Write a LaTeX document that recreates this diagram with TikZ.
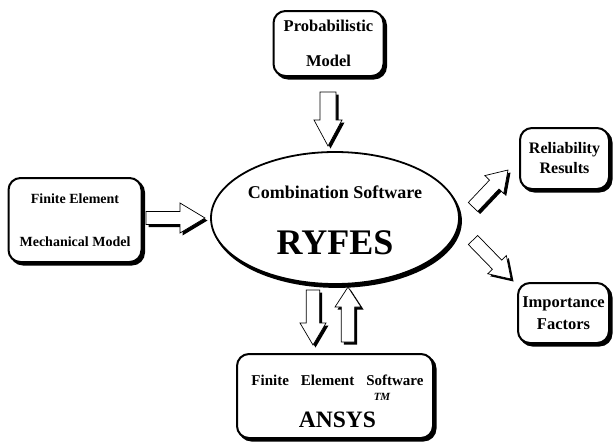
\documentclass[tikz,border=0pt]{standalone}
\usepackage{fontspec}
\setmainfont{Liberation Serif}
\usetikzlibrary{calc,shadows,shapes.geometric}
\newcommand\barrowpath[5]{($(#1)!#3!90:(#2)$) -- ($(#2)!#5!(#1)!#3!-90:(#1)$) -- ($(#2)!#5!(#1)!#4!-90:(#1)$) -- (#2) -- ($(#2)!#5!(#1)!#4!90:(#1)$) -- ($(#2)!#5!(#1)!#3!90:(#1)$) -- ($(#1)!#3!-90:(#2)$) -- cycle}
\newcommand\blockarrow[5]{%
  \fill[black,transform canvas={xshift=2.5pt,yshift=-2.5pt}] \barrowpath{#1}{#2}{#3}{#4}{#5};
  \draw[fill=white,line width=0.7pt,line join=miter] \barrowpath{#1}{#2}{#3}{#4}{#5};}
\tikzset{
  box/.style={draw, line width=2pt, rounded corners=12pt, fill=white, inner sep=0pt, align=center,
    general shadow={fill=black, draw=black, line width=2pt, shadow xshift=2.5pt, shadow yshift=-2.5pt}},
  lbl/.style={inner sep=0pt, align=center},
}
\begin{document}
\begin{tikzpicture}[x=1pt,y=-1pt]
\useasboundingbox (0,0) rectangle (615,442);
% boxes
\node[box, minimum width=110pt, minimum height=65pt, font=\fontsize{16.5}{19}\selectfont\bfseries] (prob) at (328.5,43.5)
  {Probabilistic\\[16pt]Model};
\node[box, minimum width=133pt, minimum height=84pt, font=\fontsize{14}{16}\selectfont\bfseries] (fem) at (75,220)
  {Finite Element\\[27pt]Mechanical Model};
\node[box, minimum width=89pt, minimum height=61pt, font=\fontsize{16}{20}\selectfont\bfseries] (rel) at (564.5,158.5)
  {Reliability\\Results};
\node[box, minimum width=91pt, minimum height=60pt, font=\fontsize{16.5}{22}\selectfont\bfseries] (imp) at (563.5,313)
  {Importance\\Factors};
\node[box, minimum width=196pt, minimum height=84pt] (ans) at (335,396) {};
\node[lbl, font=\fontsize{15}{18}\selectfont\bfseries] (anst1) at (337.5,380) {Finite\hspace{12pt}Element\hspace{12pt}Software};
\node[lbl, font=\fontsize{11}{12}\selectfont\bfseries\itshape] (tm) at (382,397) {TM};
\node[lbl, font=\fontsize{23.5}{26}\selectfont\bfseries] (anst2) at (337.5,420) {ANSYS};
% ellipse
\node[ellipse, draw, line width=1.8pt, fill=white, minimum width=248pt, minimum height=132pt,
  general shadow={fill=black, draw=black, line width=1.8pt, shadow xshift=2pt, shadow yshift=-3pt}] (ryf) at (335,218) {};
\node[lbl, font=\fontsize{18}{20}\selectfont\bfseries] (comb) at (335,192) {Combination Software};
\node[lbl, font=\fontsize{36}{40}\selectfont\bfseries] (ryfes) at (335,243) {RYFES};
% arrow end points
\coordinate (p1) at (328,92);  \coordinate (p2) at (328,146);
\coordinate (f1) at (146,218); \coordinate (f2) at (205,218);
\coordinate (d1) at (313,290); \coordinate (d2) at (313,345);
\coordinate (u1) at (348,342); \coordinate (u2) at (348,287);
\coordinate (r1) at (473,207); \coordinate (r2) at (508,170);
\coordinate (i1) at (473,240); \coordinate (i2) at (511,279);
\blockarrow{p1}{p2}{8pt}{14pt}{26pt}
\blockarrow{f1}{f2}{6.5pt}{15pt}{25pt}
\blockarrow{d1}{d2}{6.7pt}{13pt}{22pt}
\blockarrow{u1}{u2}{6.7pt}{13pt}{20pt}
\blockarrow{r1}{r2}{6.5pt}{13pt}{20pt}
\blockarrow{i1}{i2}{6.5pt}{13pt}{20pt}
\end{tikzpicture}
\end{document}
